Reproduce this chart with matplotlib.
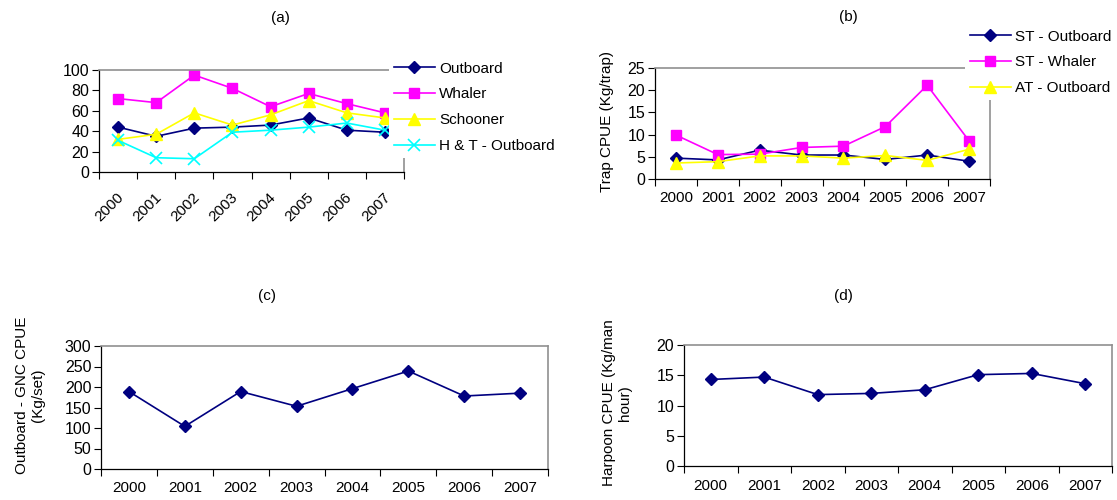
import matplotlib
matplotlib.use('Agg')
import matplotlib.pyplot as plt
from matplotlib.patches import Rectangle
from matplotlib.transforms import ScaledTranslation

plt.rcParams['font.family'] = ['Liberation Sans', 'DejaVu Sans']
plt.rcParams['font.size'] = 11

years = ['2000', '2001', '2002', '2003', '2004', '2005', '2006', '2007']

# (a) handline
hl_outboard = [44, 35, 43, 44, 46, 53, 41, 39]
hl_whaler = [72, 68, 95, 82, 64, 77, 67, 58]
hl_schooner = [32, 37, 58, 46, 56, 70, 58, 53]
hl_ht_outboard = [31, 14, 13, 39, 41, 44, 48, 41]

# (b) trap
st_outboard = [4.7, 4.3, 6.5, 5.4, 5.4, 4.4, 5.4, 4.0]
st_whaler = [9.9, 5.5, 5.6, 7.1, 7.4, 11.8, 21.1, 8.6]
at_outboard = [3.6, 3.9, 5.2, 5.2, 4.7, 5.3, 4.2, 6.7]

# (c) gillnet
gnc_outboard = [189, 104, 189, 153, 196, 239, 178, 185]

# (d) harpoon
harpoon = [14.3, 14.7, 11.8, 12.0, 12.6, 15.1, 15.3, 13.6]

W, H = 1117, 500
fig = plt.figure(figsize=(W / 100, H / 100), dpi=100)
x = range(len(years))


def px_axes(l, t, r, b):
    return fig.add_axes([l / W, 1 - b / H, (r - l) / W, (b - t) / H])


def excel_style(ax, ymax, ystep, rot=0):
    n = len(years)
    ax.set_xlim(-0.5, n - 0.5)
    ax.set_ylim(0, ymax)
    ax.set_yticks(range(0, ymax + 1, ystep))
    ax.set_xticks([i - 0.5 for i in range(n + 1)])
    ax.set_xticklabels([])
    ax.set_xticks(list(range(n)), minor=True)
    if rot:
        ax.set_xticklabels(years, minor=True, rotation=rot, ha='right',
                           rotation_mode='anchor')
    else:
        ax.set_xticklabels(years, minor=True)
    ax.tick_params(axis='x', which='minor', length=0, labelsize=11, pad=9)
    ax.tick_params(axis='x', which='major', length=5, direction='out', width=0.8)
    ax.tick_params(axis='y', length=5, direction='out', width=0.8, labelsize=11.5, pad=2)
    for s in ['top', 'right']:
        ax.spines[s].set_color('#909090')
        ax.spines[s].set_linewidth(1.2)
    for s in ['left', 'bottom']:
        ax.spines[s].set_color('black')
        ax.spines[s].set_linewidth(0.9)
    ax.patch.set_alpha(0)


def ylabel(text, xc, yc, clip_top=None):
    fig.text(xc / W, 1 - yc / H, text, rotation=90, ha='center', va='center',
             fontsize=11, linespacing=1.2)
    if clip_top is not None:
        # the original label runs past the chart area and is cut off
        fig.add_artist(Rectangle(((xc - 25) / W, 1 - clip_top / H), 50 / W, clip_top / H,
                                 transform=fig.transFigure, facecolor='white',
                                 edgecolor='none', zorder=10))


def add_legend(ax, lx, ly):
    ax.legend(loc='upper left', bbox_to_anchor=(lx / W, 1 - ly / H),
              bbox_transform=fig.transFigure, frameon=True, facecolor='white',
              edgecolor='none', framealpha=1, fancybox=False, borderpad=0.3,
              handlelength=2.7, handletextpad=0.3, labelspacing=0.78,
              fontsize=11, borderaxespad=0)


# ---- (a)
ax_a = px_axes(99, 70, 404, 172)
excel_style(ax_a, 100, 20, rot=45)
ax_a.tick_params(axis='x', which='minor', pad=13)
for lab in ax_a.get_xticklabels(minor=True):
    lab.set_transform(lab.get_transform() + ScaledTranslation(-0.02, 0, fig.dpi_scale_trans))
ax_a.plot(x, hl_outboard, color='#000080', marker='D', ms=6, lw=1.2, label='Outboard')
ax_a.plot(x, hl_whaler, color='#FF00FF', marker='s', ms=7, lw=1.2, label='Whaler')
ax_a.plot(x, hl_schooner, color='#FFFF00', marker='^', ms=8, lw=1.2, label='Schooner')
ax_a.plot(x, hl_ht_outboard, color='#00FFFF', marker='x', ms=8, mew=1.2, lw=1.2,
          label='H & T - Outboard')
add_legend(ax_a, 389, 57)
fig.text(280 / W, 1 - 18 / H, '(a)', ha='center', va='center', fontsize=11)
ylabel('Handline CPUE (Kg/man\nday)', 30, 120)

# ---- (b)
ax_b = px_axes(655, 68, 990, 179)
excel_style(ax_b, 25, 5)
ax_b.plot(x, st_outboard, color='#000080', marker='D', ms=6, lw=1.2, label='ST - Outboard')
ax_b.plot(x, st_whaler, color='#FF00FF', marker='s', ms=7, lw=1.2, label='ST - Whaler')
ax_b.plot(x, at_outboard, color='#FFFF00', marker='^', ms=8, lw=1.2, label='AT - Outboard')
add_legend(ax_b, 965, 25)
fig.text(848 / W, 1 - 17 / H, '(b)', ha='center', va='center', fontsize=11)
ylabel('Trap CPUE (Kg/trap)', 607, 122, clip_top=50)

# ---- (c)
ax_c = px_axes(101, 346, 548, 469)
excel_style(ax_c, 300, 50)
ax_c.plot(x, gnc_outboard, color='#000080', marker='D', ms=6, lw=1.2)
fig.text(267 / W, 1 - 296 / H, '(c)', ha='center', va='center', fontsize=11)
ylabel('Outboard - GNC CPUE\n(Kg/set)', 30, 395, clip_top=312)

# ---- (d)
ax_d = px_axes(684, 345, 1112, 466)
excel_style(ax_d, 20, 5)
ax_d.plot(x, harpoon, color='#000080', marker='D', ms=6, lw=1.2)
fig.text(843 / W, 1 - 296 / H, '(d)', ha='center', va='center', fontsize=11)
ylabel('Harpoon CPUE (Kg/man\nhour)', 617, 403)

fig.savefig('out.png', dpi=100, facecolor='white')
